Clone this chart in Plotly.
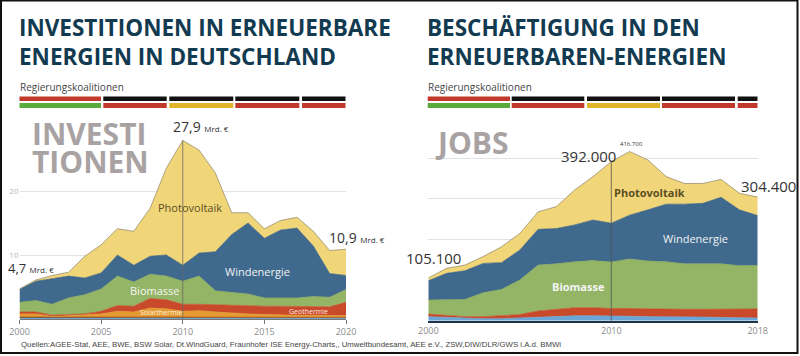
import plotly.graph_objects as go

# ---------------- data: investments (Mrd. €) ----------------
inv_years = list(range(2000, 2021))
inv_wasser = [0.15]*11 + [0.1]*10
inv_other = [0.15]*21
inv_solarthermie = [0.5, 0.5, 0.1, 0.2, 0.3, 0.5, 0.9, 0.8, 1.4, 1.3, 0.9, 1.05, 0.85, 0.65, 0.55, 0.45, 0.35, 0.35, 0.35, 0.25, 0.25]
inv_geothermie = [0.3, 0.3, 0.2, 0.2, 0.2, 0.4, 0.9, 0.9, 1.5, 1.4, 1.1, 1.0, 1.1, 1.2, 1.2, 1.3, 1.4, 1.4, 1.4, 1.4, 2.1]
inv_biomasse = [1.5, 1.8, 1.7, 2.6, 3.0, 3.5, 4.6, 3.8, 3.8, 3.7, 3.6, 4.4, 2.2, 2.1, 1.9, 1.3, 1.3, 1.3, 1.5, 1.5, 2.0]
inv_wind = [2.0, 3.0, 4.0, 3.4, 2.6, 2.5, 3.3, 2.6, 2.8, 3.3, 2.5, 3.6, 6.1, 9.0, 11.1, 9.3, 10.6, 10.9, 7.9, 3.7, 2.2]
inv_pv = [0.1, 0.2, 0.5, 0.6, 3.4, 4.4, 4.1, 5.3, 7.5, 13.6, 19.5, 16.1, 12.3, 3.4, 1.6, 1.5, 1.5, 1.7, 2.3, 3.6, 4.1]

# ---------------- data: jobs (thousands) ----------------
job_years = list(range(2000, 2019))
job_other = [10, 8, 6, 5, 5, 6.5, 9, 11, 12, 12, 12, 11, 10, 10, 9, 9, 8, 7, 6.5]
job_geo = [6.4, 5, 4, 5, 7, 8.5, 15, 17, 20, 20, 18, 19, 19, 18, 19, 19, 20, 22, 22.5]
job_biomasse = [34.6, 39.5, 42.5, 59, 65, 85, 113, 112, 113, 116, 114.5, 122, 118, 117, 112, 112, 112, 106.5, 107]
job_wind = [47.5, 64.1, 70.5, 72, 66, 74, 88, 87, 91, 100, 95.5, 108, 126, 142, 147, 149, 164, 137.5, 123]
job_pv = [6.6, 12.4, 14, 17, 39, 41, 43, 54, 86, 107, 152, 156.7, 123, 68, 51, 49, 44, 41, 45.4]

inv_ticks = [2000, 2005, 2010, 2015, 2020]
job_ticks = [2000, 2010, 2018]

C_PV = '#f1d679'
C_WIND = '#3f6a8e'
C_BIO = '#93b565'
C_RED = '#c94a2a'
C_ORANGE = '#e59a32'
C_BROWN = '#8a4a22'
C_LBLUE = '#6aa6d6'
NAVY = '#123a50'

fig = go.Figure()

def add_area(x, y, color, lc, xa, ya):
    fig.add_trace(go.Scatter(x=x, y=y, mode='lines', stackgroup='s' + xa,
                             line=dict(color=lc, width=0.7), fillcolor=color,
                             xaxis=xa, yaxis=ya, hoverinfo='skip', showlegend=False))

for y, c, lc in [(inv_wasser, C_LBLUE, C_LBLUE), (inv_other, C_BROWN, C_BROWN),
                 (inv_solarthermie, C_ORANGE, C_ORANGE), (inv_geothermie, C_RED, C_RED),
                 (inv_biomasse, C_BIO, '#86a85a'), (inv_wind, C_WIND, '#355d80'),
                 (inv_pv, C_PV, '#8c8466')]:
    add_area(inv_years, y, c, lc, 'x', 'y')

for y, c, lc in [(job_other, C_LBLUE, C_LBLUE), (job_geo, C_RED, C_RED),
                 (job_biomasse, C_BIO, '#86a85a'), (job_wind, C_WIND, '#355d80'),
                 (job_pv, C_PV, '#8c8466')]:
    add_area(job_years, y, c, lc, 'x2', 'y2')

inv_total = [sum(v) for v in zip(inv_wasser, inv_other, inv_solarthermie, inv_geothermie, inv_biomasse, inv_wind, inv_pv)]
job_total = [sum(v) for v in zip(job_other, job_geo, job_biomasse, job_wind, job_pv)]

W, H = 800, 356
def px(x): return x / W
def py(y): return 1 - y / H

shapes = []
# 2010 marker lines
i10 = inv_years.index(2010)
shapes.append(dict(type='line', xref='x', yref='y', x0=2010, x1=2010, y0=0, y1=inv_total[i10],
                   line=dict(color='#6a6a6a', width=0.8), layer='above'))
j10 = job_years.index(2010)
shapes.append(dict(type='line', xref='x2', yref='y2', x0=2010, x1=2010, y0=0, y1=job_total[j10],
                   line=dict(color='#555555', width=0.8), layer='above'))

# coalition bars
bar_colors_top = ['#c0392b', '#111111', '#111111', '#111111', '#111111']
bar_colors_bot = ['#5aab3c', '#c0392b', '#e0b52a', '#c0392b', '#c0392b']
left_bars = [(19.5, 101), (103.3, 166.7), (169.3, 233.3), (235.3, 299.3), (302, 345.5)]
right_bars = [(427.7, 510), (511.7, 584.3), (587, 660), (662, 735), (737.7, 757.5)]
for bars in (left_bars, right_bars):
    for (a, b), ct, cb in zip(bars, bar_colors_top, bar_colors_bot):
        shapes.append(dict(type='rect', xref='paper', yref='paper', x0=px(a), x1=px(b),
                           y0=py(101), y1=py(96.5), fillcolor=ct, line=dict(width=0)))
        shapes.append(dict(type='rect', xref='paper', yref='paper', x0=px(a), x1=px(b),
                           y0=py(108), y1=py(103), fillcolor=cb, line=dict(width=0)))
# frame
shapes.append(dict(type='rect', xref='paper', yref='paper', x0=px(1), x1=px(797.5), y0=py(353), y1=py(0.5),
                   line=dict(color='#111111', width=2)))

ann = []
def A(x, y, text, size, color, family='Open Sans', xanchor='left', yanchor='middle', weight=None, align='left'):
    f = dict(size=size, color=color, family=family)
    if weight:
        f['weight'] = weight
    ann.append(dict(xref='paper', yref='paper', x=px(x), y=py(y), text=text, showarrow=False,
                    xanchor=xanchor, yanchor=yanchor, font=f, align=align))

# titles
A(17, 42, 'INVESTITIONEN IN ERNEUERBARE<br>ENERGIEN IN DEUTSCHLAND', 22.5, NAVY, weight='bold')
A(425, 42, 'BESCHÄFTIGUNG IN DEN<br>ERNEUERBAREN-ENERGIEN', 22.5, NAVY, weight='bold')
A(18, 87, 'Regierungskoalitionen', 10, '#444444')
A(426, 87, 'Regierungskoalitionen', 10, '#444444')

# watermarks
A(30, 134, 'INVESTI', 30, '#a8a2a2', weight='bold')
A(30, 161, 'TIONEN', 30, '#a8a2a2', weight='bold')
A(433, 142, 'JOBS', 30, '#a8a2a2', weight='bold')

# value labels
A(171, 127, '27,9 <span style="font-size:8px">Mrd. €</span>', 14, '#333333')
A(6, 268, '4,7 <span style="font-size:8px">Mrd. €</span>', 13, '#333333')
A(327, 237, '10,9 <span style="font-size:8px">Mrd. €</span>', 14, '#333333')
A(559, 156, '392.000', 15, '#333333')
A(618, 144, '416.700', 6, '#333333')
A(739, 186, '304.400', 15, '#333333')
A(404, 258, '105.100', 15, '#333333')

# series labels
A(190, 207, 'Photovoltaik', 11, '#5c4e24', xanchor='center')
A(257, 271, 'Windenergie', 11, '#f2f2f2', xanchor='center')
A(154, 290, 'Biomasse', 11, '#f5f5f5', xanchor='center')
A(161, 312, 'Solarthermie', 7, '#fff3dc', xanchor='center')
A(308, 311, 'Geothermie', 7, '#ffe8e0', xanchor='center')
A(649, 192, 'Photovoltaik', 11, '#5c4e24', xanchor='center', weight='bold')
A(695, 238, 'Windenergie', 11, '#f2f2f2', xanchor='center')
A(578, 286, 'Biomasse', 11, '#f5f5f5', xanchor='center', weight='bold')

# sources
A(19, 344, 'Quellen:AGEE-Stat, AEE, BWE, BSW Solar, Dt.WindGuard, Fraunhofer ISE Energy-Charts,, Umweltbundesamt, AEE e.V., ZSW,DIW/DLR/GWS i.A.d. BMWi',
  7.8, '#444444', family='Liberation Sans Narrow, Arial Narrow, sans-serif')

tickfont = dict(size=9, color='#8a8a8a', family='Liberation Sans Narrow, Open Sans, sans-serif')

fig.update_layout(
    width=W, height=H, margin=dict(l=0, r=0, t=0, b=0, autoexpand=False),
    paper_bgcolor='white', plot_bgcolor='rgba(0,0,0,0)',
    showlegend=False, hovermode=False,
    shapes=shapes, annotations=ann,
    xaxis=dict(domain=[px(19.5), px(346)], range=[2000, 2020], tickvals=inv_ticks, automargin=False,
               showgrid=False, zeroline=False, showline=True, linecolor='#777777', linewidth=1,
               ticks='outside', ticklen=4, tickcolor='#777777', tickfont=tickfont, anchor='y'),
    yaxis=dict(domain=[py(319), py(127)], range=[0, 30], tickvals=[10, 20], automargin=False,
               showgrid=True, gridcolor='#e2e2e2', gridwidth=1, zeroline=False, showline=False,
               tickfont=dict(size=8, color='#b5b5b5'), ticks='', anchor='x'),
    xaxis2=dict(domain=[px(428.3), px(757.7)], range=[2000, 2018], tickvals=job_ticks, automargin=False,
                showgrid=False, zeroline=False, showline=True, linecolor='#1f3447', linewidth=2,
                ticks='', tickfont=tickfont, anchor='y2'),
    yaxis2=dict(domain=[py(320.7), py(142.06)], range=[0, 440], tickvals=[100, 200, 300, 400], automargin=False,
                showgrid=True, gridcolor='#e2e2e2', gridwidth=1, zeroline=False, showline=False,
                showticklabels=False, anchor='x2'),
)

fig.write_html('out.html', config={'displayModeBar': False},
               post_script="document.body.style.margin='0';document.body.style.overflow='hidden';")
